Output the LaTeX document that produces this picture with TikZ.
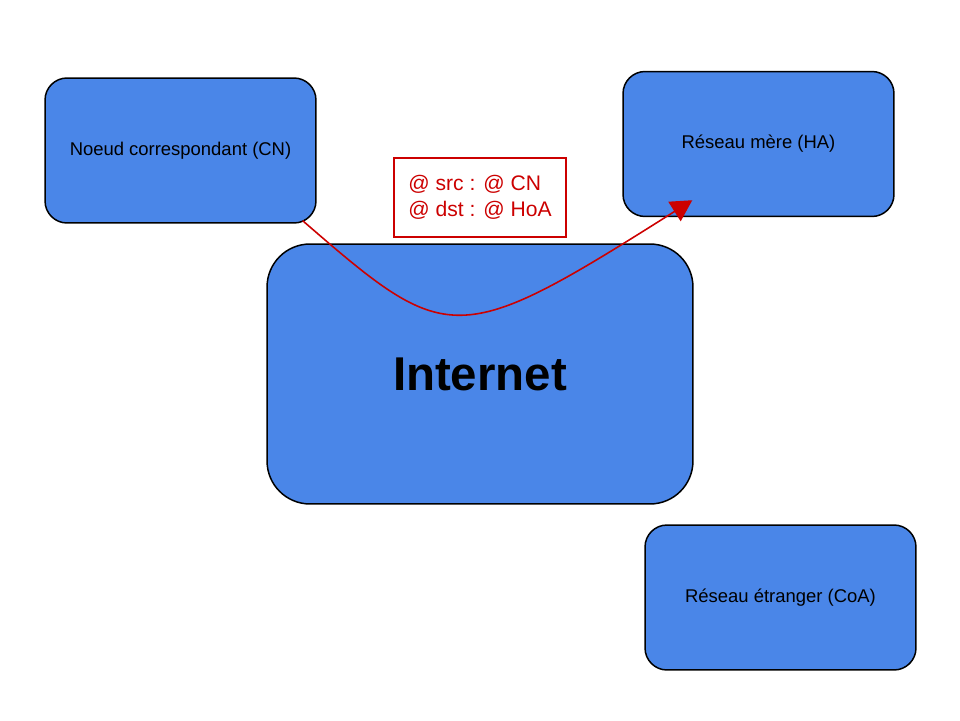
\documentclass[tikz,border=0pt]{standalone}
\usepackage{fontspec}
\setmainfont{Liberation Sans}
\usepackage{xcolor}
\usepackage{tikz}
\usetikzlibrary{calc,arrows.meta,bending}
\definecolor{netblue}{HTML}{4A86E8}
\definecolor{pktred}{HTML}{CC0000}
\tikzset{
  box/.style={draw=black, fill=netblue, line width=0.85pt, rounded corners=0.44cm,
    minimum width=5.42cm, minimum height=2.9cm, inner sep=0pt, font=\fontsize{10.5}{12.6}\selectfont},
  cloud/.style={box, rounded corners=0.86cm, minimum width=8.52cm, minimum height=5.2cm,
    font=\fontsize{27}{32}\selectfont\bfseries},
  hdr/.style={draw=pktred, fill=white, line width=0.85pt, text=pktred, align=left,
    minimum width=3.44cm, minimum height=1.58cm, inner sep=0pt,
    font=\fontsize{12}{14.7}\selectfont},
  flow/.style={draw=pktred, line width=0.9pt, -{Triangle[flex, length=12pt, width=13pt]}},
}
\begin{document}
\begin{tikzpicture}[x=0.02cm,y=-0.02cm]
  \useasboundingbox (0,0) rectangle (960,720);
  \node[box] (cn) at (180.5,150.5) {Noeud correspondant (CN)};
  \node[box] (ha) at (758.5,144) {Réseau mère (HA)};
  \node[box] (coa) at (780.5,597.5) {Réseau étranger (CoA)};
  \node[cloud] (net) at (480,374) {Internet};
  \node[hdr] (pkt) at (480,197.5) {@ src : @ CN\\@ dst : @ HoA};
  % packet path
  \coordinate (src) at ($(cn.south east)+(-14,-3)$);
  \coordinate (tip) at ($(ha.south west)+(70,-17)$);
  \draw[flow] (src) .. controls (452,350) and (456,350) .. (tip);
\end{tikzpicture}
\end{document}
